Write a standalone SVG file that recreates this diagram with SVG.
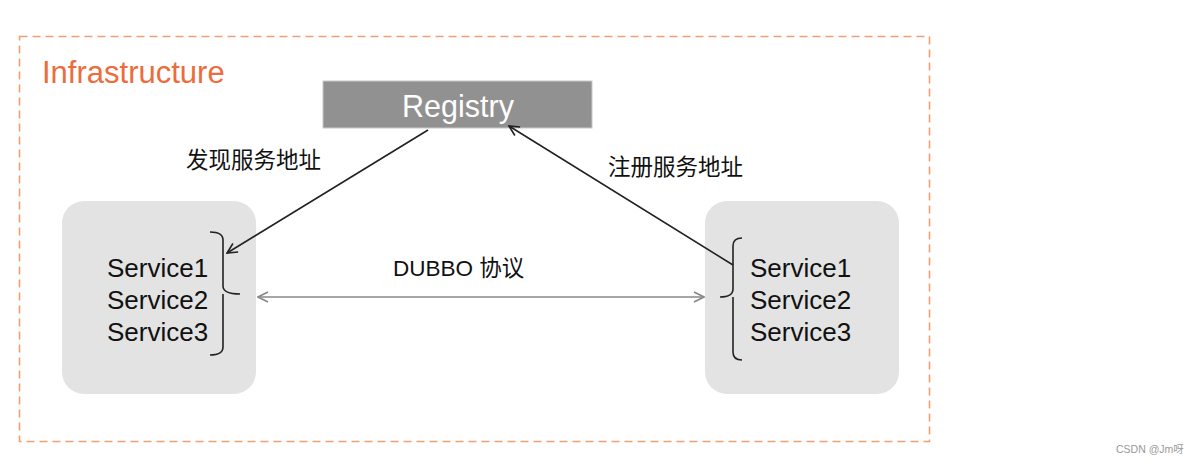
<svg xmlns="http://www.w3.org/2000/svg" width="1196" height="465" viewBox="0 0 1196 465">
<defs>
<style>
.t{font-family:"Liberation Sans",Arial,"Noto Sans CJK SC",sans-serif;fill:#111}
.svc{font-size:26px}
.cn{font-size:22.5px}
.br{fill:none;stroke:#222;stroke-width:1.6}
.box{fill:#e3e3e3}
</style>
<marker id="ak" viewBox="0 0 12 12" refX="11" refY="6" markerWidth="12" markerHeight="12" markerUnits="userSpaceOnUse" orient="auto">
<path d="M1,1 L11,6 L1,11" fill="none" stroke="#222" stroke-width="1.6"/>
</marker>
<marker id="ag" viewBox="0 0 12 12" refX="11" refY="6" markerWidth="12" markerHeight="12" markerUnits="userSpaceOnUse" orient="auto-start-reverse">
<path d="M1,1 L11,6 L1,11" fill="none" stroke="#888" stroke-width="1.6"/>
</marker>
</defs>
<rect width="1196" height="465" fill="#fff"/>
<g id="infrastructure">
<rect x="19.5" y="36.5" width="910" height="405" fill="none" stroke="#f0a070" stroke-width="1.6" stroke-dasharray="8 5"/>
<text x="42" y="83" font-family="Liberation Sans,Arial,sans-serif" font-size="31" fill="#ec6c3c">Infrastructure</text>
</g>
<g id="registry">
<rect x="323" y="81" width="269" height="47" fill="#919191" stroke="#c8c8c8" stroke-width="1"/>
<text x="458" y="117" text-anchor="middle" font-family="Liberation Sans,Arial,sans-serif" font-size="30.5" fill="#fff">Registry</text>
</g>
<g id="consumer">
<rect class="box" x="62" y="201" width="194" height="193" rx="22"/>
<text class="t svc" x="107" y="277">Service1</text>
<text class="t svc" x="107" y="309">Service2</text>
<text class="t svc" x="107" y="341">Service3</text>
<path class="br" d="M210,232 Q223,232 223,240 L223,286 Q223,294 240,294 M223,294 Q223,302 223,310 L223,347 Q223,355 210,355"/>
</g>
<g id="provider">
<rect class="box" x="705" y="201" width="194" height="193" rx="22"/>
<text class="t svc" x="750" y="277">Service1</text>
<text class="t svc" x="750" y="309">Service2</text>
<text class="t svc" x="750" y="341">Service3</text>
<path class="br" d="M742,238 Q733,238 733,246 L733,289 Q733,297 720,297 M733,297 Q733,305 733,313 L733,352 Q733,360 742,360"/>
</g>
<g id="connectors">
<line x1="428" y1="130" x2="227" y2="253" stroke="#222" stroke-width="1.6" marker-end="url(#ak)"/>
<line x1="733" y1="265" x2="509" y2="126" stroke="#222" stroke-width="1.6" marker-end="url(#ak)"/>
<line x1="258" y1="297" x2="704" y2="297" stroke="#888" stroke-width="1.6" marker-start="url(#ag)" marker-end="url(#ag)"/>
<text class="t cn" x="186" y="168">发现服务地址</text>
<text class="t cn" x="608" y="175">注册服务地址</text>
<text class="t cn" x="393" y="276">DUBBO 协议</text>
</g>
<text x="1116" y="453" font-family="Liberation Sans,Arial,Noto Sans CJK SC,sans-serif" font-size="10.5" fill="#999">CSDN @Jm呀</text>
</svg>
